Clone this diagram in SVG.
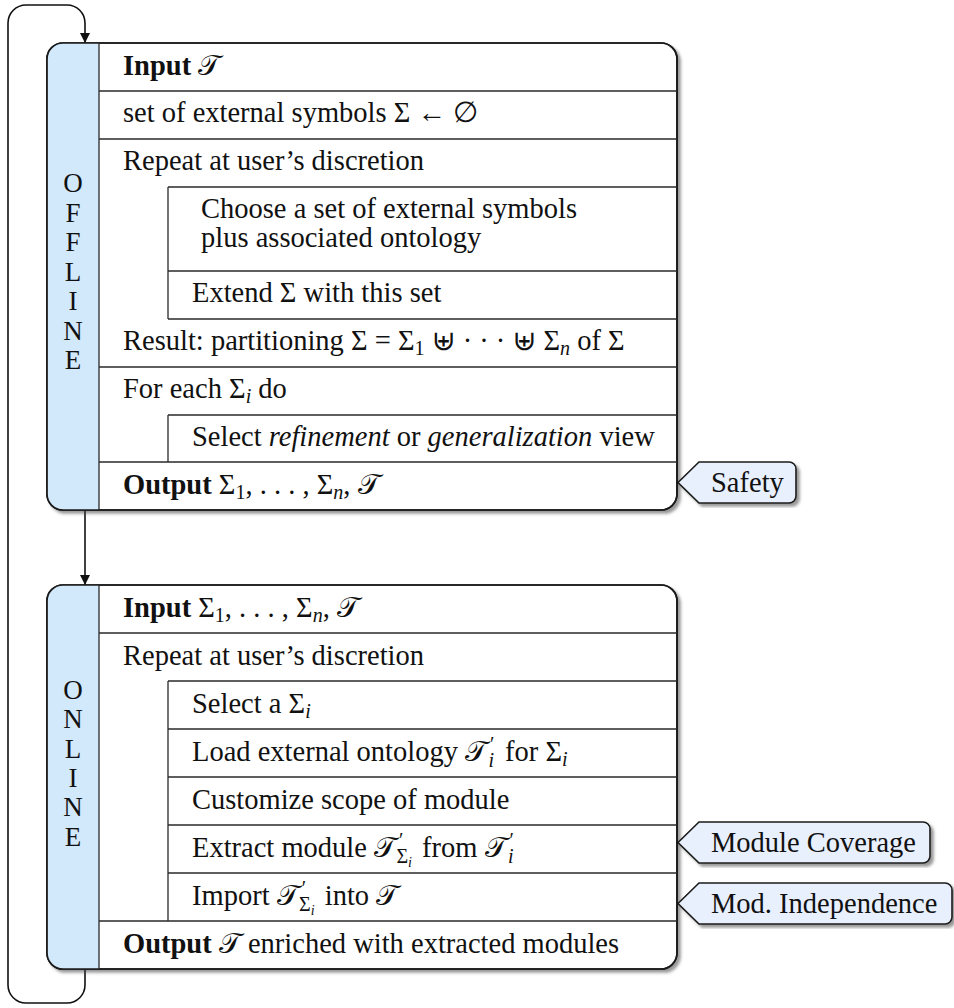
<svg xmlns="http://www.w3.org/2000/svg" width="954" height="1008" viewBox="0 0 954 1008">
  <defs>
    <filter id="shadow" x="-5%" y="-5%" width="115%" height="115%">
      <feDropShadow dx="3" dy="3" stdDeviation="1.6" flood-color="#444" flood-opacity="0.55"/>
    </filter>
    <marker id="arrow" viewBox="0 0 10 10" refX="10" refY="5" markerWidth="10" markerHeight="14" markerUnits="userSpaceOnUse" orient="auto">
      <path d="M0,0 L10,5 L0,10 Z" fill="#111"/>
    </marker>
    <style>
      text { font-family: "Liberation Serif", "DejaVu Serif", serif; font-size: 28.5px; fill: #111; }
      .b { font-weight: bold; }
      .it { font-style: italic; }
      .sub { font-size: 20px; }
      .tiny { font-size: 14px; font-style: italic; }
      .frame { fill: #fff; stroke: #1a1a1a; stroke-width: 1.7; }
      .strip { fill: #d2e8fb; }
      .rule { stroke: #2a2a2a; stroke-width: 1.3; fill: none; }
      .tag { fill: #e9f0fd; stroke: #1a1a1a; stroke-width: 1.6; }
      .link { stroke: #111; stroke-width: 1.6; fill: none; }
      .vert { text-anchor: middle; font-size: 27px; }
    </style>
  </defs>

  <g id="connectors">
    <path class="link" d="M85 969 V985 A18 18 0 0 1 67 1003 H26 A18 18 0 0 1 8 985 V23 A18 18 0 0 1 26 5 H67 A18 18 0 0 1 85 23 V43" marker-end="url(#arrow)"/>
    <path class="link" d="M85 510 V585" marker-end="url(#arrow)"/>
  </g>

  <g id="offline">
    <rect class="frame" x="47" y="43" width="630" height="467" rx="16" filter="url(#shadow)"/>
    <path class="strip" d="M99 43 H63 A16 16 0 0 0 47 59 V494 A16 16 0 0 0 63 510 H99 Z"/>
    <rect x="47" y="43" width="630" height="467" rx="16" fill="none" stroke="#1a1a1a" stroke-width="1.7"/>
    <path class="rule" d="M99 43 V510 M99 91 H677 M99 139 H677 M168 187 H677 M168 187 V319 M168 271 H677 M168 319 H677 M99 367 H677 M168 415 H677 M168 415 V462 M99 462 H677"/>
    <text class="vert" x="73" y="192">O</text>
    <text class="vert" x="73" y="222">F</text>
    <text class="vert" x="73" y="251">F</text>
    <text class="vert" x="73" y="281">L</text>
    <text class="vert" x="73" y="310">I</text>
    <text class="vert" x="73" y="340">N</text>
    <text class="vert" x="73" y="369">E</text>
    <text x="123" y="75"><tspan class="b">Input</tspan> 𝒯</text>
    <text x="123" y="122">set of external symbols Σ ← ∅</text>
    <text x="123" y="170">Repeat at user’s discretion</text>
    <text x="201" y="218">Choose a set of external symbols</text>
    <text x="201" y="247">plus associated ontology</text>
    <text x="192" y="302">Extend Σ with this set</text>
    <text x="123" y="350">Result: partitioning Σ = Σ<tspan class="sub" dy="5">1</tspan><tspan dy="-5"> ⊎ · · · ⊎ Σ</tspan><tspan class="sub it" dy="5">n</tspan><tspan dy="-5"> of Σ</tspan></text>
    <text x="123" y="398">For each Σ<tspan class="sub it" dy="5">i</tspan><tspan dy="-5"> do</tspan></text>
    <text x="192" y="446">Select <tspan class="it">refinement</tspan> or <tspan class="it">generalization</tspan> view</text>
    <text x="123" y="494"><tspan class="b">Output</tspan> Σ<tspan class="sub" dy="5">1</tspan><tspan dy="-5">, . . . , Σ</tspan><tspan class="sub it" dy="5">n</tspan><tspan dy="-5">, 𝒯</tspan></text>
  </g>

  <g id="online">
    <rect class="frame" x="47" y="585" width="630" height="384" rx="16" filter="url(#shadow)"/>
    <path class="strip" d="M99 585 H63 A16 16 0 0 0 47 601 V953 A16 16 0 0 0 63 969 H99 Z"/>
    <rect x="47" y="585" width="630" height="384" rx="16" fill="none" stroke="#1a1a1a" stroke-width="1.7"/>
    <path class="rule" d="M99 585 V969 M99 633 H677 M168 681 H677 M168 681 V921 M168 729 H677 M168 777 H677 M168 825 H677 M168 873 H677 M99 921 H677"/>
    <text class="vert" x="73" y="699">O</text>
    <text class="vert" x="73" y="728">N</text>
    <text class="vert" x="73" y="758">L</text>
    <text class="vert" x="73" y="787">I</text>
    <text class="vert" x="73" y="816">N</text>
    <text class="vert" x="73" y="846">E</text>
    <text x="123" y="617"><tspan class="b">Input</tspan> Σ<tspan class="sub" dy="5">1</tspan><tspan dy="-5">, . . . , Σ</tspan><tspan class="sub it" dy="5">n</tspan><tspan dy="-5">, 𝒯</tspan></text>
    <text x="123" y="665">Repeat at user’s discretion</text>
    <text x="192" y="713">Select a Σ<tspan class="sub it" dy="5">i</tspan></text>
    <text x="192" y="761">Load external ontology 𝒯<tspan class="sub" dx="3" dy="-10">′</tspan><tspan class="sub it" dx="-6" dy="16">i</tspan><tspan dx="4" dy="-6"> for Σ</tspan><tspan class="sub it" dy="5">i</tspan></text>
    <text x="192" y="809">Customize scope of module</text>
    <text x="192" y="857">Extract module 𝒯<tspan class="sub" dx="3" dy="-10">′</tspan><tspan class="sub" dx="-7" dy="16">Σ</tspan><tspan class="tiny" dy="4">i</tspan><tspan dx="3" dy="-10"> from 𝒯</tspan><tspan class="sub" dx="3" dy="-10">′</tspan><tspan class="sub it" dx="-6" dy="16">i</tspan></text>
    <text x="192" y="905">Import 𝒯<tspan class="sub" dx="3" dy="-10">′</tspan><tspan class="sub" dx="-7" dy="16">Σ</tspan><tspan class="tiny" dy="4">i</tspan><tspan dx="3" dy="-10"> into 𝒯</tspan></text>
    <text x="123" y="953"><tspan class="b">Output</tspan> 𝒯 enriched with extracted modules</text>
  </g>

  <g id="tag-safety">
    <path class="tag" filter="url(#shadow)" d="M678 482.5 L699 462 H789 A7 7 0 0 1 796 469 V496 A7 7 0 0 1 789 503 H699 Z"/>
    <text x="711" y="492">Safety</text>
  </g>

  <g id="tag-coverage">
    <path class="tag" filter="url(#shadow)" d="M678 842.5 L699 822 H923 A7 7 0 0 1 930 829 V856 A7 7 0 0 1 923 863 H699 Z"/>
    <text x="711" y="852">Module Coverage</text>
  </g>

  <g id="tag-independence">
    <path class="tag" filter="url(#shadow)" d="M678 903.5 L699 883 H945 A7 7 0 0 1 952 890 V917 A7 7 0 0 1 945 924 H699 Z"/>
    <text x="711" y="913">Mod. Independence</text>
  </g>
</svg>
